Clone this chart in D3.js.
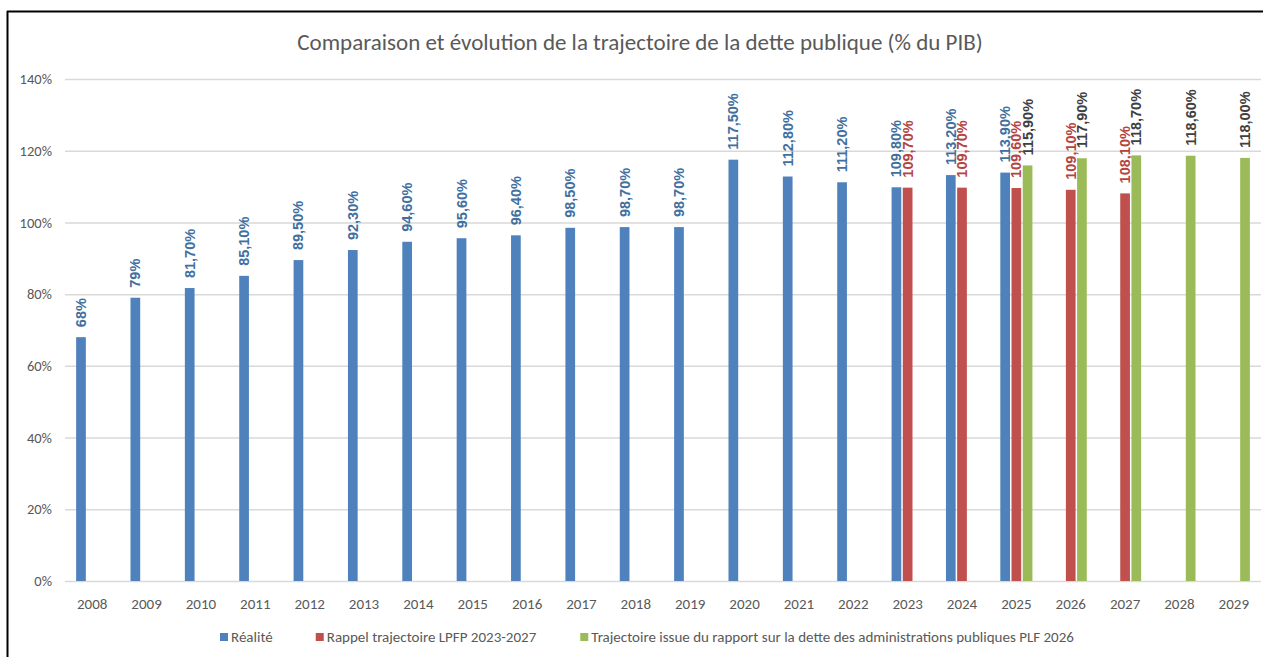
<!DOCTYPE html>
<html>
<head>
<meta charset="utf-8">
<script src="https://cdn.jsdelivr.net/npm/d3@7"></script>
<style>
  html, body { margin: 0; padding: 0; background: #fff; }
  svg { display: block; }
</style>
</head>
<body>
<svg id="chart" width="1266" height="657"></svg>
<script>
const years = ["2008","2009","2010","2011","2012","2013","2014","2015","2016","2017","2018","2019","2020","2021","2022","2023","2024","2025","2026","2027","2028","2029"];
const realite = [68, 79, 81.7, 85.1, 89.5, 92.3, 94.6, 95.6, 96.4, 98.5, 98.7, 98.7, 117.5, 112.8, 111.2, 109.8, 113.2, 113.9, null, null, null, null];
const realiteLabels = ["68%","79%","81,70%","85,10%","89,50%","92,30%","94,60%","95,60%","96,40%","98,50%","98,70%","98,70%","117,50%","112,80%","111,20%","109,80%","113,20%","113,90%",null,null,null,null];
const lpfp = [null,null,null,null,null,null,null,null,null,null,null,null,null,null,null, 109.7, 109.7, 109.6, 109.1, 108.1, null, null];
const lpfpLabels = [null,null,null,null,null,null,null,null,null,null,null,null,null,null,null,"109,70%","109,70%","109,60%","109,10%","108,10%",null,null];
const plf = [null,null,null,null,null,null,null,null,null,null,null,null,null,null,null,null,null, 115.9, 117.9, 118.7, 118.6, 118.0];
const plfLabels = [null,null,null,null,null,null,null,null,null,null,null,null,null,null,null,null,null,"115,90%","117,90%","118,70%","118,60%","118,00%"];
const yTicks = [0, 20, 40, 60, 80, 100, 120, 140];
const seriesNames = ["Réalité", "Rappel trajectoire LPFP 2023-2027", "Trajectoire issue du rapport sur la dette des administrations publiques PLF 2026"];
const titleText = "Comparaison et évolution de la trajectoire de la dette publique (% du PIB)";

const series = [
  { name: seriesNames[0], values: realite, labels: realiteLabels, color: "#4f81bd", labelColor: "#41709f" },
  { name: seriesNames[1], values: lpfp, labels: lpfpLabels, color: "#c0504d", labelColor: "#b5443f" },
  { name: seriesNames[2], values: plf, labels: plfLabels, color: "#9bbb59", labelColor: "#404040" }
];

const FONT = "Carlito, Calibri, Lato, 'Open Sans', sans-serif";
const LABEL_FONT = "'Liberation Sans', Arial, sans-serif";
const svg = d3.select("#chart");
const W = 1266, H = 657;
const plot = { left: 65, right: 1261, top: 79, bottom: 581 };

const x = d3.scaleBand().domain(years).range([plot.left, plot.right]).padding(0);
const y = d3.scaleLinear().domain([0, 140]).range([plot.bottom, plot.top]);

const barW = 9.7, barStep = 11.2;

// border
svg.append("line").attr("x1", 7).attr("x2", 1263).attr("y1", 11.5).attr("y2", 11.5).attr("stroke", "#000").attr("stroke-width", 2);
svg.append("line").attr("x1", 7.5).attr("x2", 7.5).attr("y1", 11).attr("y2", H).attr("stroke", "#000").attr("stroke-width", 2);

// title
svg.append("text").attr("x", 640).attr("y", 50).attr("text-anchor", "middle")
  .attr("fill", "#595959").style("font-family", FONT).style("font-size", "23px").text(titleText);

// grid + y axis
const yAxis = d3.axisLeft(y).tickValues(yTicks).tickSize(-(plot.right - plot.left)).tickFormat(d => d + "%").tickPadding(13);
const gy = svg.append("g").attr("transform", `translate(${plot.left},0)`).call(yAxis);
gy.select(".domain").remove();
gy.selectAll(".tick line").attr("stroke", "#d9d9d9").attr("stroke-width", 1.5);
gy.selectAll(".tick text").attr("fill", "#595959").style("font-size", "14.5px").style("font-family", FONT);

// x axis labels
const xAxis = d3.axisBottom(x).tickSize(0).tickPadding(17);
const gx = svg.append("g").attr("transform", `translate(0,${plot.bottom})`).call(xAxis);
gx.select(".domain").remove();
gx.selectAll(".tick text").attr("fill", "#595959").style("font-size", "15px").style("font-family", FONT);

// bars
series.forEach((s, i) => {
  const data = years.map((yr, j) => ({ yr, v: s.values[j], lab: s.labels[j] })).filter(d => d.v != null);
  const cx = d => x(d.yr) + x.bandwidth() / 2 + (i - 1) * barStep;
  svg.append("g").selectAll("rect").data(data).join("rect")
    .attr("x", d => cx(d) - barW / 2)
    .attr("y", d => y(d.v))
    .attr("width", barW)
    .attr("height", d => y(0) - y(d.v))
    .attr("fill", s.color);
  svg.append("g").selectAll("text").data(data).join("text")
    .attr("transform", d => `translate(${cx(d)},${y(d.v) - 10}) rotate(-90)`)
    .attr("text-anchor", "start")
    .attr("dominant-baseline", "central")
    .style("font-size", "14.5px")
    .style("font-weight", "bold")
    .style("font-family", LABEL_FONT)
    .attr("fill", s.labelColor)
    .text(d => d.lab);
});

// legend
const lg = svg.append("g");
let lx = 220;
const gaps = [43, 44, 0];
series.forEach((s, i) => {
  lg.append("rect").attr("x", lx).attr("y", 633).attr("width", 8).attr("height", 8).attr("fill", s.color);
  const t = lg.append("text").attr("x", lx + 11).attr("y", 642).attr("fill", "#595959")
    .style("font-family", FONT).style("font-size", "15px").text(s.name);
  lx += 11 + t.node().getComputedTextLength() + gaps[i];
});
</script>
</body>
</html>
